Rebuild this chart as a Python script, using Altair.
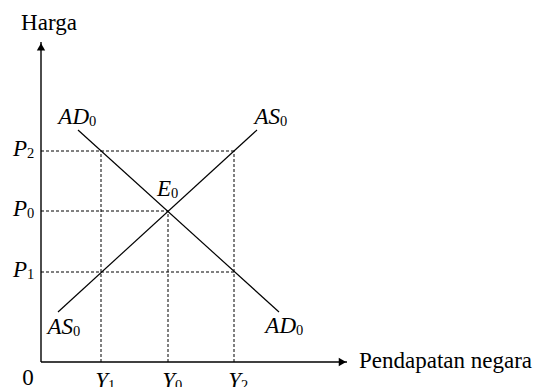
import altair as alt
import pandas as pd

# ---- values (units: px-like, origin at the axes corner) ----
y_names = ["Y", "Y", "Y"]
y_subs = ["1", "0", "2"]
y_values = [60, 127, 193]

p_names = ["P", "P", "P"]
p_subs = ["2", "0", "1"]
p_values = [211, 151, 90]

# extent of the dotted guides
p_guide_end = [193, 127, 193]   # horizontal guides for P2, P0, P1 run to Y2, Y0, Y2
y_guide_end = [211, 151, 211]   # vertical guides for Y1, Y0, Y2 run up to P2, P0, P2

curve_names = ["AS", "AD"]
curve_x_start = [17, 37]
curve_y_start = [50, 232]
curve_x_end = [216, 238]
curve_y_end = [232, 50]

axis_x_max = 306
axis_y_max = 320

FONT = "Liberation Serif"
FS = 23
SUB_FS = 14.5

xs = alt.Scale(domain=[-33, 492], nice=False, zero=False)
ys = alt.Scale(domain=[-25, 354], nice=False, zero=False)

def X(f):
    return alt.X(f, type="quantitative", scale=xs, axis=None)

def Y(f):
    return alt.Y(f, type="quantitative", scale=ys, axis=None)

# axes
axes_df = pd.DataFrame({"x": [0, 0], "x2": [axis_x_max, 0], "y": [0, 0], "y2": [0, axis_y_max]})
axes = alt.Chart(axes_df).mark_rule(color="black", strokeWidth=1.4).encode(
    x=X("x"), x2="x2", y=Y("y"), y2="y2")

arrow_df = pd.DataFrame({"x": [axis_x_max - 4.6, 0], "y": [0, axis_y_max - 4.8],
                         "shape": ["triangle-right", "triangle-up"]})
arrows = alt.Chart(arrow_df).mark_point(filled=True, color="black", opacity=1, size=70).encode(
    x=X("x"), y=Y("y"), shape=alt.Shape("shape:N", scale=None))

# dotted guides
h_df = pd.DataFrame({"x": [0] * 3, "x2": p_guide_end, "y": p_values})
v_df = pd.DataFrame({"x": y_values, "y": [0] * 3, "y2": y_guide_end})
hguides = alt.Chart(h_df).mark_rule(color="black", strokeWidth=1, strokeDash=[3, 2]).encode(
    x=X("x"), x2="x2", y=Y("y"))
vguides = alt.Chart(v_df).mark_rule(color="black", strokeWidth=1, strokeDash=[3, 2]).encode(
    x=X("x"), y=Y("y"), y2="y2")

# AS / AD curves
c_df = pd.DataFrame({"name": curve_names, "x": curve_x_start, "y": curve_y_start,
                     "x2": curve_x_end, "y2": curve_y_end})
curves = alt.Chart(c_df).mark_rule(color="black", strokeWidth=1.2).encode(
    x=X("x"), y=Y("y"), x2="x2", y2="y2")

# labels: junction point between main text and subscript
lab_rows = []
for n, s, v in zip(p_names, p_subs, p_values):
    lab_rows.append((n, s, -14, v - 4.5))
for n, s, v in zip(y_names, y_subs, y_values):
    lab_rows.append((n, s, v + 7, -26))
# curve labels near the ends of the lines
lab_rows.append(("AD", "0", curve_x_start[1] + 11, curve_y_start[1] + 6))
lab_rows.append(("AS", "0", curve_x_end[0] + 23, curve_y_end[0] + 6))
lab_rows.append(("AS", "0", curve_x_start[0] + 15, curve_y_start[0] - 22))
lab_rows.append(("AD", "0", curve_x_end[1] + 17, curve_y_end[1] - 21))
lab_rows.append(("E", "0", y_values[1] + 3, p_values[1] + 15))
lab_df = pd.DataFrame(lab_rows, columns=["main", "sub", "x", "y"])

mains = alt.Chart(lab_df).mark_text(align="right", baseline="alphabetic", font=FONT,
                                    fontSize=FS, fontStyle="italic", color="black").encode(
    x=X("x"), y=Y("y"), text="main:N")
subs = alt.Chart(lab_df).mark_text(align="left", baseline="alphabetic", font=FONT,
                                   fontSize=SUB_FS, dy=2, color="black").encode(
    x=X("x"), y=Y("y"), text="sub:N")

plain_df = pd.DataFrame({"t": ["Harga", "0"], "x": [8, -13], "y": [332, -23]})
plain = alt.Chart(plain_df).mark_text(align="center", baseline="alphabetic", font=FONT,
                                      fontSize=FS, color="black").encode(
    x=X("x"), y=Y("y"), text="t:N")
xt_df = pd.DataFrame({"t": ["Pendapatan negara"], "x": [318], "y": [-6]})
xtitle = alt.Chart(xt_df).mark_text(align="left", baseline="alphabetic", font=FONT,
                                    fontSize=FS, color="black").encode(
    x=X("x"), y=Y("y"), text="t:N")

chart = alt.layer(hguides, vguides, axes, arrows, curves, mains, subs, plain, xtitle).properties(
    width=525, height=379, autosize=alt.AutoSizeParams(type="none"), padding=0,
    background="white"
).configure_view(stroke=None)

chart.save("out.html", embed_options={"renderer": "svg", "actions": False})
